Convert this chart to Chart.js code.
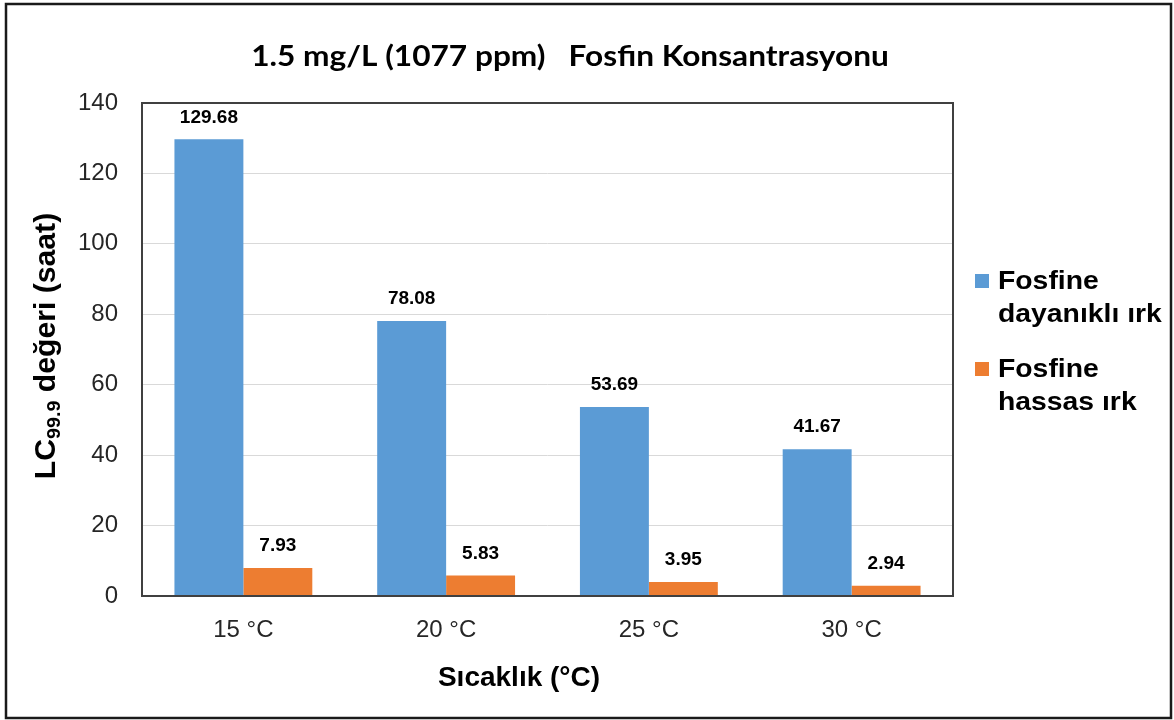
<!DOCTYPE html>
<html><head><meta charset="utf-8">
<script src="https://cdn.jsdelivr.net/npm/chart.js@4.4.1/dist/chart.umd.min.js"></script>
<style>html,body{margin:0;padding:0;background:#fff;overflow:hidden}#wrap{width:1174px;height:720px;position:relative}</style>
</head><body><div id="wrap"><canvas id="c" width="1174" height="720"></canvas></div>
<script>
// ---- data ----
const categories = ['15 °C', '20 °C', '25 °C', '30 °C'];
const resistantValues = [129.68, 78.08, 53.69, 41.67];
const sensitiveValues = [7.93, 5.83, 3.95, 2.94];
const seriesLines = [['Fosfine', 'dayanıklı ırk'], ['Fosfine', 'hassas ırk']];
const yTickValues = [0, 20, 40, 60, 80, 100, 120, 140];
const chartTitle = '1.5 mg/L (1077 ppm)   Fosfin Konsantrasyonu';
const yTitleMain = 'LC';
const yTitleSub = '99.9';
const yTitleRest = ' değeri (saat)';
const xTitle = 'Sıcaklık (°C)';

const BLUE = '#5B9BD5', ORANGE = '#ED7D31';
const FONT = 'Arial, "Liberation Sans", sans-serif';

function stretchedText(ctx, text, x, y, sx) {
  ctx.save();
  ctx.translate(x, y);
  ctx.scale(sx, 1);
  ctx.fillText(text, 0, 0);
  ctx.restore();
}

const decorPlugin = {
  id: 'decor',
  beforeDraw(chart) {
    const ctx = chart.ctx;
    ctx.save();
    ctx.fillStyle = '#fff';
    ctx.fillRect(0, 0, chart.width, chart.height);
    ctx.restore();
  },
  afterDatasetsDraw(chart) {
    const ctx = chart.ctx;
    const a = chart.chartArea;
    ctx.save();
    // plot border
    ctx.strokeStyle = '#404040';
    ctx.lineWidth = 2;
    ctx.strokeRect(a.left, a.top, a.right - a.left, a.bottom - a.top);
    // data labels
    ctx.fillStyle = '#000';
    ctx.font = 'bold 19px ' + FONT;
    ctx.textAlign = 'center';
    ctx.textBaseline = 'middle';
    chart.data.datasets.forEach((ds, i) => {
      const meta = chart.getDatasetMeta(i);
      meta.data.forEach((el, j) => {
        ctx.fillText(ds.data[j].toFixed(2), el.x, el.y - 22);
      });
    });
    // chart title
    ctx.font = 'bold 28px Lato, "Open Sans", sans-serif';
    stretchedText(ctx, chartTitle, 570, 57, 1.13);
    // x title
    ctx.font = 'bold 28px ' + FONT;
    ctx.fillText(xTitle, 519, 678);
    // y title with subscript
    ctx.translate(45, 346);
    ctx.rotate(-Math.PI / 2);
    ctx.textAlign = 'left';
    ctx.textBaseline = 'alphabetic';
    const mainF = 'bold 29px ' + FONT, subF = 'bold 19px ' + FONT;
    ctx.font = mainF; const w1 = ctx.measureText(yTitleMain).width;
    const w3 = ctx.measureText(yTitleRest).width;
    ctx.font = subF; const w2 = ctx.measureText(yTitleSub).width;
    const sx = 1.04;
    let x = -(w1 + w2 + w3) * sx / 2;
    const base = 10;
    ctx.font = mainF; stretchedText(ctx, yTitleMain, x, base, sx); x += w1 * sx;
    ctx.font = subF; stretchedText(ctx, yTitleSub, x, base + 5, sx); x += w2 * sx;
    ctx.font = mainF; stretchedText(ctx, yTitleRest, x, base, sx);
    ctx.restore();
    // legend
    ctx.save();
    ctx.textAlign = 'left';
    ctx.textBaseline = 'middle';
    ctx.font = 'bold 26px ' + FONT;
    chart.data.datasets.forEach((ds, i) => {
      const y0 = 282 + i * 88;
      ctx.fillStyle = ds.backgroundColor;
      ctx.fillRect(975, y0 - 8, 14, 14);
      ctx.fillStyle = '#000';
      seriesLines[i].forEach((line, k) => stretchedText(ctx, line, 998, y0 + k * 33, 1.09));
    });
    // outer frame
    ctx.strokeStyle = '#1a1a1a';
    ctx.lineWidth = 2.5;
    ctx.strokeRect(6, 4, 1165, 714);
    ctx.restore();
  }
};

new Chart(document.getElementById('c'), {
  type: 'bar',
  data: {
    labels: categories,
    datasets: [
      { label: seriesLines[0].join(' '), data: resistantValues, backgroundColor: BLUE },
      { label: seriesLines[1].join(' '), data: sensitiveValues, backgroundColor: ORANGE }
    ]
  },
  options: {
    responsive: false,
    animation: false,
    devicePixelRatio: 1,
    layout: { padding: { left: 0, right: 221, top: 103, bottom: 0 } },
    datasets: { bar: { categoryPercentage: 0.68, barPercentage: 1.0 } },
    plugins: {
      legend: { display: false },
      tooltip: { enabled: false },
      title: { display: false }
    },
    scales: {
      x: {
        grid: { display: false },
        border: { display: false },
        ticks: { color: '#262626', font: { family: FONT, size: 24 }, padding: 12 },
        afterFit(s) { s.height = 124; }
      },
      y: {
        min: 0, max: 140,
        afterBuildTicks(s) { s.ticks = yTickValues.map(v => ({ value: v })); },
        grid: { color: '#d9d9d9', lineWidth: 1, drawTicks: false },
        border: { display: false },
        ticks: { color: '#262626', font: { family: FONT, size: 24 }, padding: 24 },
        afterFit(s) { s.width = 142; }
      }
    }
  },
  plugins: [decorPlugin]
});
</script>
</body></html>
